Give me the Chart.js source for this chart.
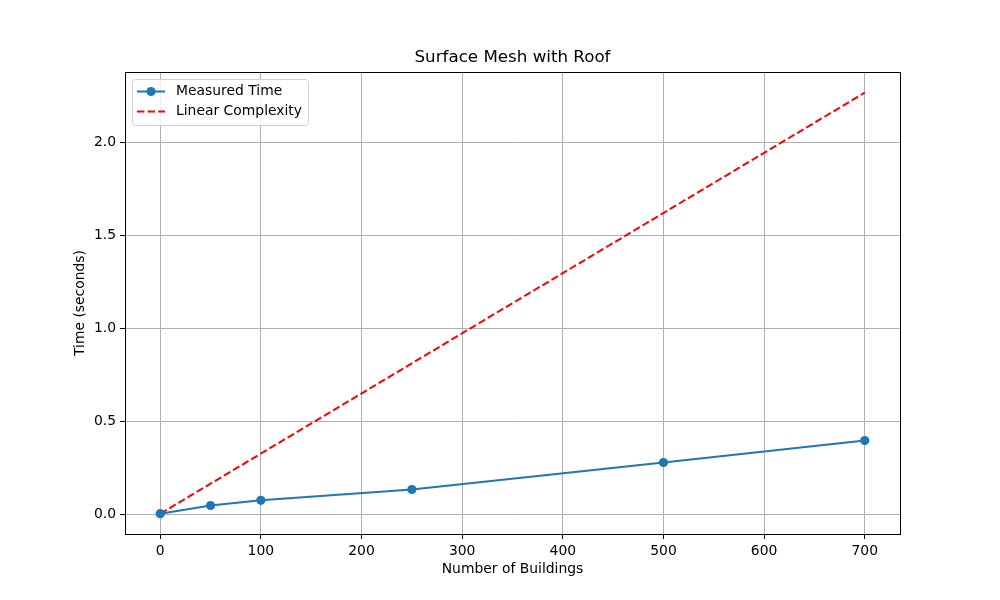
<!DOCTYPE html>
<html><head><meta charset="utf-8">
<script src="https://cdn.jsdelivr.net/npm/chart.js@4"></script>
<style>html,body{margin:0;padding:0;background:#fff}#wrap{width:1000px;height:600px}</style>
</head><body><div id="wrap"><canvas id="c" width="1000" height="600"></canvas></div>
<script>
const buildings = [0, 50, 100, 250, 500, 700];
const measuredTime = [0.005, 0.049, 0.077, 0.135, 0.280, 0.398];
const linearX = [0, 700];
const linearTime = [0.005, 2.267];
const xTicks = [0, 100, 200, 300, 400, 500, 600, 700];
const yTicks = [0.0, 0.5, 1.0, 1.5, 2.0];
const titleText = 'Surface Mesh with Roof';
const xLabel = 'Number of Buildings';
const yLabel = 'Time (seconds)';
const seriesNames = ['Measured Time', 'Linear Complexity'];

const FONT = '"DejaVu Sans", sans-serif';
const blue = '#1f77b4';

const deco = {
  id: 'deco',
  afterDraw(chart) {
    const ctx = chart.ctx, a = chart.chartArea;
    ctx.save();
    ctx.strokeStyle = '#000'; ctx.lineWidth = 1;
    ctx.strokeRect(Math.round(a.left) + 0.5, Math.round(a.top) + 0.5, Math.round(a.right - a.left), Math.round(a.bottom - a.top));
    ctx.fillStyle = '#000';
    ctx.textAlign = 'center'; ctx.textBaseline = 'middle';
    ctx.font = '16.7px ' + FONT;
    ctx.fillText(titleText, (a.left + a.right) / 2, 58);
    ctx.font = '13.9px ' + FONT;
    ctx.fillText(xLabel, (a.left + a.right) / 2, 569);
    ctx.save();
    ctx.translate(80, (a.top + a.bottom) / 2);
    ctx.rotate(-Math.PI / 2);
    ctx.fillText(yLabel, 0, 0);
    ctx.restore();
    // legend
    const lx = 132.5, ly = 79.5, lw = 176, lh = 46;
    ctx.fillStyle = 'rgba(255,255,255,0.8)';
    ctx.strokeStyle = '#d0d0d0';
    ctx.beginPath();
    if (ctx.roundRect) ctx.roundRect(lx, ly, lw, lh, 3); else ctx.rect(lx, ly, lw, lh);
    ctx.fill(); ctx.stroke();
    const ds = chart.data.datasets;
    const rows = [91.5, 111.5];
    ctx.font = '13.9px ' + FONT;
    ctx.textAlign = 'left';
    ds.forEach((d, i) => {
      const y = rows[i];
      ctx.strokeStyle = d.borderColor; ctx.lineWidth = d.borderWidth;
      ctx.setLineDash(d.borderDash || []);
      ctx.beginPath(); ctx.moveTo(137, y); ctx.lineTo(165, y); ctx.stroke();
      ctx.setLineDash([]);
      if (d.pointRadius > 0) {
        ctx.fillStyle = d.pointBackgroundColor;
        ctx.beginPath(); ctx.arc(151, y, d.pointRadius, 0, Math.PI * 2); ctx.fill();
      }
      ctx.fillStyle = '#000';
      ctx.fillText(d.label, 176, y);
    });
    ctx.restore();
  }
};

new Chart(document.getElementById('c'), {
  type: 'line',
  data: {
    datasets: [
      {
        label: seriesNames[0],
        data: buildings.map((x, i) => ({x, y: measuredTime[i]})),
        borderColor: blue, backgroundColor: blue, pointBackgroundColor: blue,
        pointBorderColor: blue, borderWidth: 2, pointRadius: 4.6, pointBorderWidth: 0,
        tension: 0, fill: false
      },
      {
        label: seriesNames[1],
        data: linearX.map((x, i) => ({x, y: linearTime[i]})),
        borderColor: '#ff0000', backgroundColor: '#ff0000', pointBackgroundColor: '#ff0000',
        borderWidth: 2, borderDash: [7.4, 3.2], pointRadius: 0, tension: 0, fill: false
      }
    ]
  },
  options: {
    responsive: false, animation: false, devicePixelRatio: 1,
    layout: { padding: { top: 72, right: 100, left: 0, bottom: 0 } },
    plugins: { legend: { display: false }, title: { display: false }, tooltip: { enabled: false } },
    scales: {
      x: {
        type: 'linear', min: -35, max: 735,
        afterBuildTicks: s => { s.ticks = xTicks.map(v => ({value: v})); },
        afterFit: s => { s.height = 66; },
        grid: { color: '#b0b0b0', lineWidth: 1, tickColor: '#000', tickLength: 5, drawTicks: true },
        border: { display: false },
        ticks: { color: '#000', font: { family: FONT, size: 13.9 }, padding: 4, maxRotation: 0 , callback: v => String(v)}
      },
      y: {
        type: 'linear', min: -0.104, max: 2.378,
        afterBuildTicks: s => { s.ticks = yTicks.map(v => ({value: v})); },
        afterFit: s => { s.width = 125; },
        grid: { color: '#b0b0b0', lineWidth: 1, tickColor: '#000', tickLength: 5, drawTicks: true },
        border: { display: false },
        ticks: { color: '#000', font: { family: FONT, size: 13.9 }, padding: 4, callback: v => v.toFixed(1) }
      }
    }
  },
  plugins: [deco]
});
</script>
</body></html>
